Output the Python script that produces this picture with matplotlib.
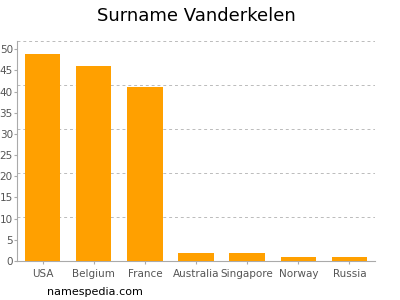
import matplotlib
matplotlib.use("Agg")
import matplotlib.pyplot as plt
import numpy as np

categories = ["USA", "Belgium", "France", "Australia", "Singapore", "Norway", "Russia"]
values = [49, 46, 41, 2, 2, 1, 1]
yticks = [0, 5, 10, 15, 20, 25, 30, 35, 40, 45, 50]
ymax = 52

fig = plt.figure(figsize=(4, 3), dpi=100)
ax = fig.add_axes([0.0425, 0.13, 0.895, 0.734])
x = np.arange(len(categories))
ax.bar(x, values, width=0.69, color="#FFA000", zorder=3)
ax.set_xlim(-0.5, len(categories) - 0.5)
ax.set_ylim(0, ymax)
ax.set_yticks(yticks)
ax.set_xticks(x)
ax.set_xticklabels(categories)
for g in np.arange(1, 6) * ymax / 5:
    ax.axhline(g, color="#BBBBBB", linestyle=(0, (3, 3)), linewidth=0.7, zorder=1)
for s in ["top", "right"]:
    ax.spines[s].set_visible(False)
for s in ["left", "bottom"]:
    ax.spines[s].set_color("#AAAAAA")
    ax.spines[s].set_linewidth(0.8)
ax.tick_params(axis="both", colors="#AAAAAA", labelcolor="#555555", labelsize=7.5, length=2.5, width=0.8)
ax.tick_params(axis="y", pad=0.5)
fig.text(0.49, 0.948, "Surname Vanderkelen", ha="center", va="center", fontsize=13, color="#000000")
fig.text(0.117, 0.027, "namespedia.com", ha="left", va="center", fontsize=8, color="#000000")
fig.savefig("out.png", dpi=100)
